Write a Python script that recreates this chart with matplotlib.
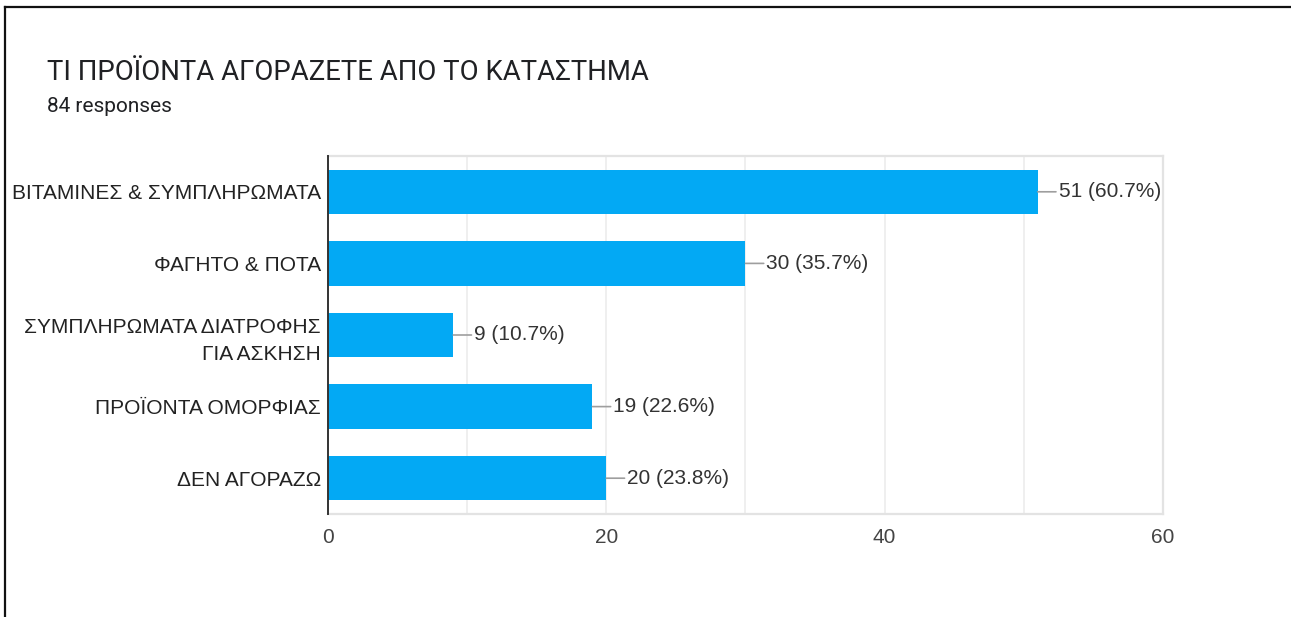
import matplotlib
matplotlib.use("Agg")
import matplotlib.pyplot as plt
from matplotlib.lines import Line2D

# Survey results: products bought at the store
categories = [
    "ΒΙΤΑΜΙΝΕΣ & ΣΥΜΠΛΗΡΩΜΑΤΑ",
    "ΦΑΓΗΤΟ & ΠΟΤΑ",
    "ΣΥΜΠΛΗΡΩΜΑΤΑ ΔΙΑΤΡΟΦΗΣ\nΓΙΑ ΑΣΚΗΣΗ",
    "ΠΡΟΪΟΝΤΑ ΟΜΟΡΦΙΑΣ",
    "ΔΕΝ ΑΓΟΡΑΖΩ",
]
counts = [51, 30, 9, 19, 20]
percents = [60.7, 35.7, 10.7, 22.6, 23.8]
total_responses = 84
title = "ΤΙ ΠΡΟΪΟΝΤΑ ΑΓΟΡΑΖΕΤΕ ΑΠΟ ΤΟ ΚΑΤΑΣΤΗΜΑ"
xticks = [0, 20, 40, 60]

plt.rcParams["font.family"] = ["Liberation Sans", "DejaVu Sans"]
HEAD = ["Roboto", "DejaVu Sans"]

W, H = 1291, 617
fig = plt.figure(figsize=(W / 100, H / 100), dpi=100)
fig.patch.set_facecolor("white")

# page border (top and left edges)
fig.add_artist(Line2D([4.5 / W, 1.0], [1 - 6.5 / H, 1 - 6.5 / H],
                      transform=fig.transFigure, color="#111111", lw=1.6))
fig.add_artist(Line2D([4.5 / W, 4.5 / W], [0.0, 1 - 6.5 / H],
                      transform=fig.transFigure, color="#111111", lw=1.6))

fig.text(47 / W, 1 - 72 / H, title, fontsize=19.8, color="#202124",
         ha="left", va="center", family=HEAD)
fig.text(47 / W, 1 - 107 / H, f"{total_responses} responses", fontsize=15,
         color="#202124", ha="left", va="center", family=HEAD)

ax = fig.add_axes([328 / W, 1 - 514 / H, (1163 - 328) / W, (514 - 156) / H])
y = list(range(len(categories)))
ax.barh(y, counts, height=0.62, color="#03a9f4", zorder=3)

ax.set_xlim(0, 60)
ax.set_ylim(len(categories) - 0.5, -0.5)
ax.set_yticks(y)
ax.set_yticklabels(categories, fontsize=15, color="#222222",
                   linespacing=1.55)
ax.set_xticks(xticks)
ax.set_xticks(range(0, 61, 10), minor=True)
ax.set_xticklabels([str(t) for t in xticks], fontsize=15, color="#444444")
ax.tick_params(axis="y", length=0, pad=5)
ax.tick_params(axis="x", which="both", length=0, pad=10)
ax.grid(axis="x", which="both", color="#ebebeb", lw=1.1, zorder=0)

for side in ("top", "right", "bottom"):
    ax.spines[side].set_color("#e3e3e3")
    ax.spines[side].set_linewidth(1.6)
ax.spines["left"].set_color("#333333")
ax.spines["left"].set_linewidth(1.4)
ax.spines["left"].set_zorder(4)

for yi, c, p in zip(y, counts, percents):
    ax.annotate(f"{c} ({p}%)", xy=(c, yi), xytext=(21, 0),
                textcoords="offset pixels", ha="left", va="center",
                fontsize=15, color="#333333", annotation_clip=False,
                arrowprops=dict(arrowstyle="-", color="#9e9e9e", lw=1.2,
                                shrinkA=0, shrinkB=0))

fig.savefig("out.png", dpi=100, facecolor="white")
